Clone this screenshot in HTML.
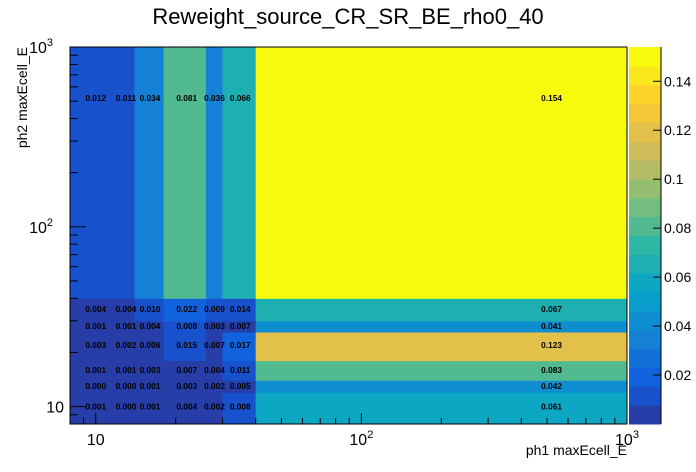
<!DOCTYPE html>
<html><head><meta charset="utf-8"><style>
body{margin:0;background:#fff;}
svg{display:block;font-family:"Liberation Sans",Arial,sans-serif;}
</style></head><body>
<svg id="c" width="696" height="472"></svg>
<script>
const xEdges=[8,12,14,18,26,30,40,1000];
const yEdges=[8,12,14,18,26,30,40,1000];
// rows from bottom (y bin 0) to top
const zRows=[
[0.001,0.000,0.001,0.004,0.002,0.008,0.061],
[0.000,0.000,0.001,0.003,0.002,0.005,0.042],
[0.001,0.001,0.003,0.007,0.004,0.011,0.083],
[0.003,0.002,0.006,0.015,0.007,0.017,0.123],
[0.001,0.001,0.004,0.008,0.003,0.007,0.041],
[0.004,0.004,0.010,0.022,0.009,0.014,0.067],
[0.012,0.011,0.034,0.081,0.036,0.066,0.154]
];
const zTicks=[0.02,0.04,0.06,0.08,0.1,0.12,0.14];
const zTickLabels=["0.02","0.04","0.06","0.08","0.1","0.12","0.14"];
const zMax=0.154, nCont=20;

const NS="http://www.w3.org/2000/svg";
const svg=document.getElementById('c');
function mk(t,a,p){const e=document.createElementNS(NS,t);for(const k in a)e.setAttribute(k,a[k]);(p||svg).appendChild(e);return e;}
const L=70,R=627,T=47,B=424;
const X=v=>L+(Math.log10(v)-Math.log10(8))/(3-Math.log10(8))*(R-L);
const Y=v=>B-(Math.log10(v)-Math.log10(8))/(3-Math.log10(8))*(B-T);
const Z=v=>B-v/zMax*(B-T);
const st=[0,.125,.25,.375,.5,.625,.75,.875,1];
const rr=[0.2082,0.0592,0.0780,0.0232,0.1802,0.5301,0.8186,0.9956,0.9764];
const gg=[0.1664,0.3599,0.5041,0.6419,0.7178,0.7492,0.7328,0.7862,0.9832];
const bb=[0.5293,0.8684,0.8385,0.7914,0.6425,0.4662,0.3499,0.1968,0.0539];
function pal(f){let i=0;while(i<7&&f>st[i+1])i++;const t=(f-st[i])/(st[i+1]-st[i]);
 const c=a=>Math.round(255*(a[i]+(a[i+1]-a[i])*t));return `rgb(${c(rr)},${c(gg)},${c(bb)})`;}
function band(i){const idx=Math.floor((i+0.99)*255/nCont);return pal(Math.min(idx,254)/254);}
function zcol(z){let i=Math.floor(z/zMax*nCont);if(i>=nCont)i=nCont-1;return band(i);}

const cells=mk('g',{});


for(let j=0;j<zRows.length;j++)for(let i=0;i<xEdges.length-1;i++){
 const x0=X(xEdges[i]),x1=X(xEdges[i+1]),y0=Y(yEdges[j+1]),y1=Y(yEdges[j]);
 const r=mk('rect',{x:x0,y:y0,width:x1-x0+0.5,height:y1-y0+0.5,fill:zcol(zRows[j][i])},cells);
 
 
}
for(let j=0;j<zRows.length;j++)for(let i=0;i<xEdges.length-1;i++){
 const cx=X((xEdges[i]+xEdges[i+1])/2),cy=Y((yEdges[j]+yEdges[j+1])/2);
 const t=mk('text',{x:cx,y:cy+3,'text-anchor':'middle','font-size':8.3,'font-weight':'bold',fill:'#000'});
 t.textContent=zRows[j][i].toFixed(3);
 
 
}
mk('rect',{x:L,y:T,width:R-L,height:B-T,fill:'none',stroke:'#000','stroke-width':1});
const xt=mk('g',{});
for(let d=1;d<=100;d*=10)for(let m=1;m<10;m++){const v=m*d;if(v<8||v>1000)continue;const x=X(v);
 mk('line',{x1:x,x2:x,y1:B,y2:B-(m==1?11:6),stroke:'#000'},xt);}
[[10,""],[100,"2"],[1000,"3"]].forEach(([v,e])=>{const t=mk('text',{x:X(v),y:445,'text-anchor':'middle','font-size':16},xt);t.textContent="10";if(e){const s=mk('tspan',{dy:-7,'font-size':11},t);s.textContent=e;}});
const yt=mk('g',{});
for(let d=1;d<=100;d*=10)for(let m=1;m<10;m++){const v=m*d;if(v<8||v>1000)continue;const y=Y(v);
 mk('line',{x1:L,x2:L+(m==1?16:8),y1:y,y2:y,stroke:'#000'},yt);}
[[10,""],[100,"2"],[1000,"3"]].forEach(([v,e])=>{const t=mk('text',{x:e?53:64,y:Y(v)+6,'text-anchor':'end','font-size':16},yt);t.textContent="10";if(e){const s=mk('tspan',{dy:-7,'font-size':11},t);s.textContent=e;}});
const pg=mk('g',{});
for(let i=0;i<nCont;i++){const y0=Z((i+1)*zMax/nCont),y1=Z(i*zMax/nCont);mk('rect',{x:629,y:y0,width:32,height:y1-y0+0.5,fill:band(i)},pg);}
mk('line',{x1:661,x2:661,y1:T,y2:B,stroke:'#000'},pg);
zTicks.forEach((v,k)=>{const y=Z(v);mk('line',{x1:653,x2:661,y1:y,y2:y,stroke:'#000'},pg);
 const t=mk('text',{x:664,y:y+5,'font-size':14},pg);t.textContent=zTickLabels[k];});
</script>
<div style="position:absolute;left:0;top:0;width:696px;height:472px;pointer-events:none;font-family:'Liberation Sans',Arial,sans-serif;">
<div style="position:absolute;left:0;width:696px;top:4px;text-align:center;font-size:22px;">Reweight_source_CR_SR_BE_rho0_40</div>
<div style="position:absolute;right:69px;top:442px;font-size:14px;">ph1 maxEcell_E</div>
<div style="position:absolute;left:14px;top:47px;font-size:14px;transform-origin:0 0;transform:rotate(-90deg) translate(-100%,0);white-space:nowrap;">ph2 maxEcell_E</div>
</div>
</body></html>
